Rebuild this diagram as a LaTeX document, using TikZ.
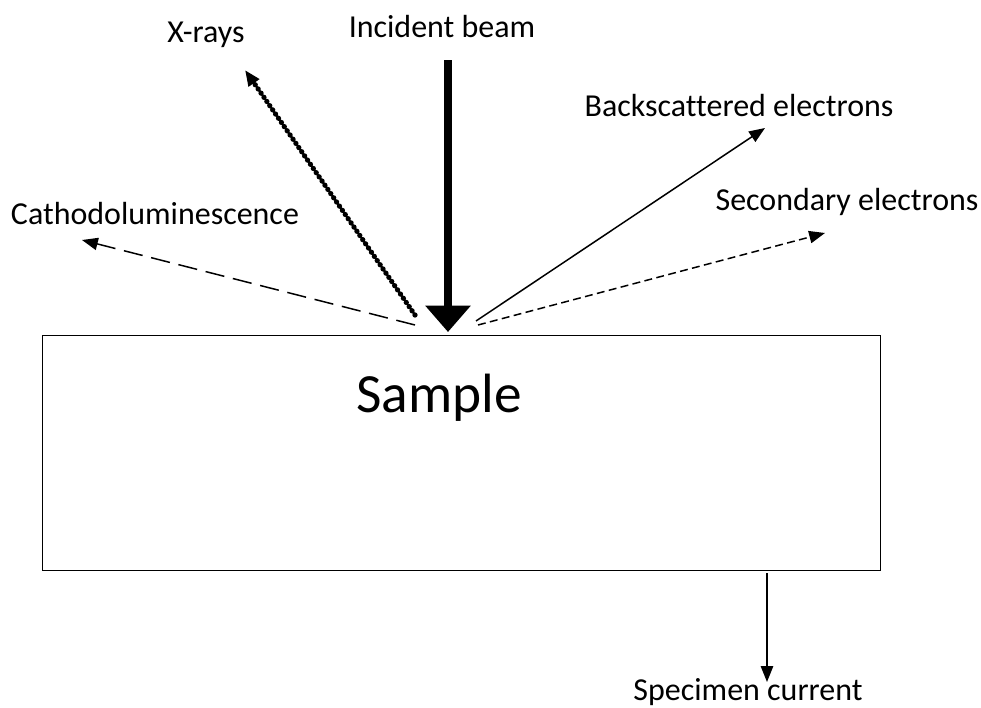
\documentclass[tikz,border=0pt]{standalone}
\usepackage{fontspec}
\setmainfont[Ligatures=NoCommon]{Carlito}
\usetikzlibrary{arrows.meta}

\begin{document}
\begin{tikzpicture}[x=0.02cm, y=-0.02cm,
    lbl/.style={font=\fontsize{18.2}{21}\selectfont, inner sep=0pt, anchor=base},
    ray/.style={line width=0.85pt, -{Triangle[length=9pt,width=7pt]}}]
    \useasboundingbox (0,0) rectangle (981,707);

    % 試料
    \node[draw, line width=0.8pt, minimum width=838*0.02cm, minimum height=235*0.02cm, anchor=north west] (sample) at (42,335) {};
    \node[font=\fontsize{31.5}{36}\selectfont, inner sep=0pt, anchor=base] (samplelbl) at (439,412) {Sample};

    % ラベル
    \node[lbl] (beam) at (442,37) {Incident beam};
    \node[lbl] (xray) at (206,42) {X-rays};
    \node[lbl] (bse) at (739,116) {Backscattered electrons};
    \node[lbl] (cl) at (155,224) {Cathodoluminescence};
    \node[lbl] (se) at (847,210) {Secondary electrons};
    \node[lbl] (sc) at (748,700) {Specimen current};

    % 端点
    \coordinate (beamS) at (448,60);
    \coordinate (beamE) at (448,332);
    \coordinate (xrayS) at (415,315);
    \coordinate (xrayE) at (245,70);
    \coordinate (clS) at (415,325);
    \coordinate (clE) at (82,240);
    \coordinate (bseS) at (476,321);
    \coordinate (bseE) at (765,128);
    \coordinate (seS) at (478,325);
    \coordinate (seE) at (825,233);
    \coordinate (scS) at (767,573);
    \coordinate (scE) at (767,682);

    % 矢印
    \draw[line width=4.5pt, -{Triangle[length=15pt,width=25pt]}] (beamS) -- (beamE);
    \draw[line width=1.2pt, shorten >=6pt] (xrayS) -- (xrayE);
    \draw[line width=3pt, line cap=round, dash pattern=on 0pt off 2.9pt, -{Triangle[length=9pt,width=7pt,line cap=butt]}] (xrayS) -- (xrayE);
    \draw[ray, dash pattern=on 11pt off 5pt] (clS) -- (clE);
    \draw[ray] (bseS) -- (bseE);
    \draw[ray, dash pattern=on 4.5pt off 2.5pt] (seS) -- (seE);
    \draw[ray] (scS) -- (scE);
\end{tikzpicture}
\end{document}
